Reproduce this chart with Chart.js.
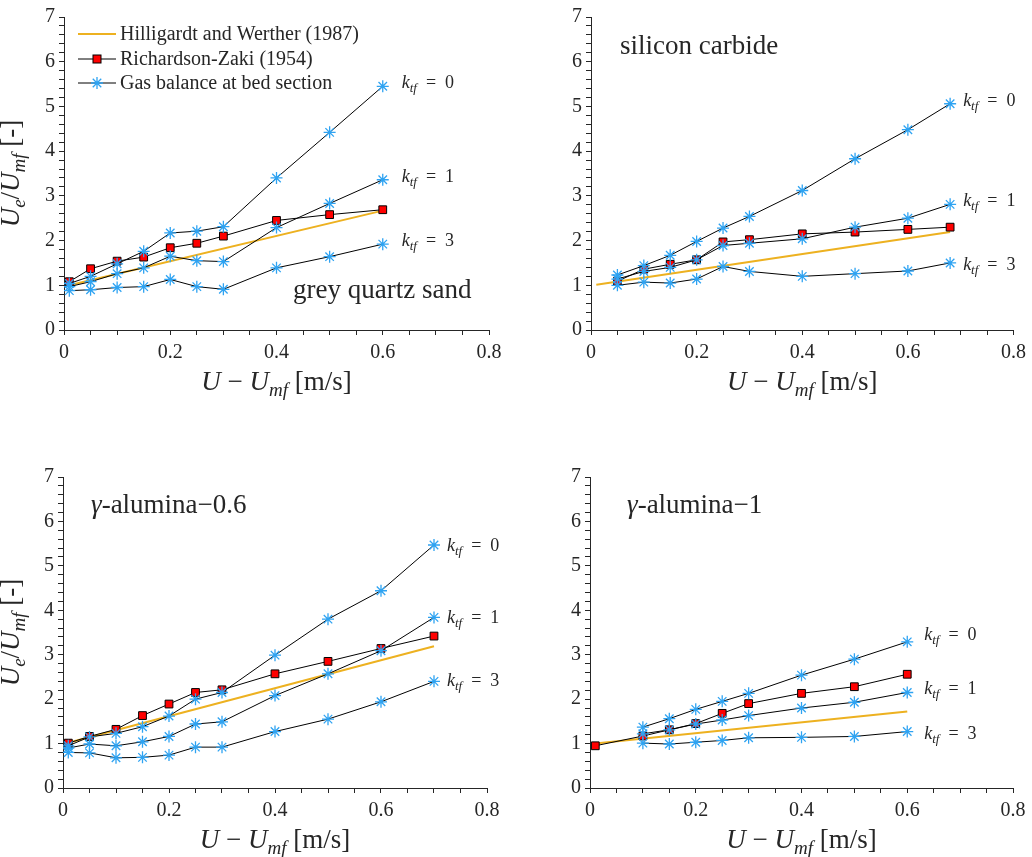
<!DOCTYPE html>
<html>
<head>
<meta charset="utf-8">
<script src="https://cdn.jsdelivr.net/npm/chart.js@4.4.1/dist/chart.umd.min.js"></script>
<style>
  html, body { margin: 0; padding: 0; background: #fff; }
  #wrap { position: relative; width: 1032px; height: 857px; }
  canvas { position: absolute; }
</style>
</head>
<body>
<div id="wrap">
  <canvas id="c1" width="516" height="430" style="left:0;top:0"></canvas>
  <canvas id="c2" width="516" height="430" style="left:516px;top:0"></canvas>
  <canvas id="c3" width="516" height="417" style="left:0;top:440px"></canvas>
  <canvas id="c4" width="516" height="417" style="left:516px;top:440px"></canvas>
</div>
<script>
// ---- data ----
// grey quartz sand
const quartzX   = [0.01, 0.05, 0.1, 0.15, 0.2, 0.25, 0.3, 0.4, 0.5, 0.6];
const quartzRZ  = [1.08, 1.37, 1.54, 1.63, 1.84, 1.94, 2.10, 2.45, 2.58, 2.69];
const quartzK0  = [1.04, 1.20, 1.48, 1.76, 2.17, 2.21, 2.31, 3.40, 4.42, 5.45];
const quartzK1  = [0.97, 1.08, 1.26, 1.39, 1.65, 1.55, 1.53, 2.29, 2.83, 3.36];
const quartzK3  = [0.88, 0.90, 0.95, 0.97, 1.13, 0.97, 0.91, 1.39, 1.64, 1.92];
const quartzHWx = [0.01, 0.6];
const quartzHW  = [1.00, 2.67];

// silicon carbide
const sicX   = [0.05, 0.1, 0.15, 0.2, 0.25, 0.3, 0.4, 0.5, 0.6, 0.68];
const sicRZ  = [1.09, 1.36, 1.47, 1.57, 1.97, 2.02, 2.15, 2.19, 2.25, 2.30];
const sicK0  = [1.23, 1.44, 1.67, 1.98, 2.28, 2.54, 3.12, 3.83, 4.48, 5.06];
const sicK1  = [1.14, 1.31, 1.40, 1.57, 1.89, 1.94, 2.04, 2.30, 2.50, 2.81];
const sicK3  = [1.00, 1.07, 1.05, 1.14, 1.42, 1.31, 1.20, 1.26, 1.32, 1.50];
const sicHWx = [0.01, 0.68];
const sicHW  = [1.01, 2.19];

// gamma-alumina-0.6
const al06X   = [0.01, 0.05, 0.1, 0.15, 0.2, 0.25, 0.3, 0.4, 0.5, 0.6, 0.7];
const al06RZ  = [1.01, 1.16, 1.32, 1.63, 1.89, 2.15, 2.21, 2.57, 2.85, 3.14, 3.42];
const al06K0  = [0.95, 1.15, 1.23, 1.38, 1.62, 2.00, 2.15, 2.99, 3.80, 4.44, 5.47];
const al06K1  = [0.90, 0.99, 0.95, 1.04, 1.16, 1.44, 1.49, 2.08, 2.57, 3.09, 3.84];
const al06K3  = [0.80, 0.79, 0.68, 0.69, 0.74, 0.92, 0.92, 1.27, 1.55, 1.94, 2.40];
const al06HWx = [0.01, 0.7];
const al06HW  = [1.02, 3.19];

// gamma-alumina-1
const al1RZx  = [0.01, 0.1, 0.15, 0.2, 0.25, 0.3, 0.4, 0.5, 0.6];
const al1RZ   = [0.95, 1.17, 1.31, 1.45, 1.68, 1.90, 2.13, 2.28, 2.56];
const al1X    = [0.1, 0.15, 0.2, 0.25, 0.3, 0.4, 0.5, 0.6];
const al1K0   = [1.37, 1.56, 1.77, 1.95, 2.13, 2.54, 2.90, 3.29];
const al1K1   = [1.22, 1.31, 1.44, 1.53, 1.63, 1.80, 1.93, 2.15];
const al1K3   = [1.01, 0.99, 1.03, 1.07, 1.13, 1.14, 1.16, 1.27];
const al1HWx  = [0.01, 0.6];
const al1HW   = [1.00, 1.72];

const kValues = ['0', '1', '3'];
const legendLabels = ['Hilligardt and Werther (1987)', 'Richardson-Zaki (1954)', 'Gas balance at bed section'];

// ---- style ----
const INK = '#262626';
const ORANGE = '#EDB120';
const STAR = '#2ea3f2';
const SERIF = '"Liberation Serif", "Times New Roman", serif';

Chart.defaults.font.family = SERIF;
Chart.defaults.font.size = 20;
Chart.defaults.color = INK;

const pts = (xs, ys) => xs.map((x, i) => ({ x, y: ys[i] }));

function fontFor(p, size) {
  const s = p.sub ? Math.round(size * 0.7) : size;
  return (p.it ? 'italic ' : '') + s + 'px ' + SERIF;
}

// draws mixed italic / subscript text, y is the baseline
function drawRich(ctx, parts, x, y, size, align) {
  ctx.textBaseline = 'alphabetic';
  ctx.textAlign = 'left';
  let w = 0;
  parts.forEach(p => { ctx.font = fontFor(p, size); w += ctx.measureText(p.t).width; });
  let cx = align === 'center' ? x - w / 2 : x;
  parts.forEach(p => {
    ctx.font = fontFor(p, size);
    ctx.fillText(p.t, cx, y + (p.sub ? size * 0.22 : 0));
    cx += ctx.measureText(p.t).width;
  });
}

function drawStar(ctx, x, y, r) {
  ctx.beginPath();
  for (let a = 0; a < 4; a++) {
    const t = a * Math.PI / 4;
    ctx.moveTo(x - r * Math.cos(t), y - r * Math.sin(t));
    ctx.lineTo(x + r * Math.cos(t), y + r * Math.sin(t));
  }
  ctx.stroke();
}

const yTitle = [{ t: 'U', it: true }, { t: 'e', it: true, sub: true }, { t: '/' },
                { t: 'U', it: true }, { t: 'mf', it: true, sub: true }, { t: ' [-]' }];
const xTitle = [{ t: 'U', it: true }, { t: ' \u2212 ' }, { t: 'U', it: true },
                { t: 'mf', it: true, sub: true }, { t: ' [m/s]' }];

const annotate = {
  id: 'annotate',
  afterDraw(chart, args, o) {
    const ctx = chart.ctx;
    const a = chart.chartArea;
    const xs = chart.scales.x, ys = chart.scales.y;
    ctx.save();
    ctx.fillStyle = INK;

    // axis titles
    drawRich(ctx, xTitle, (a.left + a.right) / 2, a.bottom + 60, 27, 'center');
    if (o.yTitle) {
      ctx.save();
      ctx.translate(19, (a.top + a.bottom) / 2);
      ctx.rotate(-Math.PI / 2);
      drawRich(ctx, yTitle, 0, 0, 27, 'center');
      ctx.restore();
    }

    // material name
    drawRich(ctx, o.name, o.nameX, o.nameY, 27, 'left');

    // k_tf labels at the end of each star series
    o.kSeries.forEach((s, i) => {
      const px = xs.getPixelForValue(s.x[s.x.length - 1]) + o.kdx;
      const py = ys.getPixelForValue(s.y[s.y.length - 1]) + o.kdy[i];
      drawRich(ctx, [{ t: 'k', it: true }, { t: 'tf', it: true, sub: true }, { t: '\u2002=\u2002' + kValues[i] }], px, py, 18, 'left');
    });

    // legend
    if (o.legend) {
      const rows = [34, 59, 83];
      const x0 = 78, x1 = 116, mx = 97;
      rows.forEach((ry, i) => {
        ctx.lineWidth = i === 0 ? 2 : 1;
        ctx.strokeStyle = i === 0 ? ORANGE : '#000';
        ctx.beginPath(); ctx.moveTo(x0, ry); ctx.lineTo(x1, ry); ctx.stroke();
        if (i === 1) {
          ctx.fillStyle = '#ff0000'; ctx.strokeStyle = '#000';
          ctx.fillRect(mx - 4, ry - 4, 8, 8); ctx.strokeRect(mx - 4, ry - 4, 8, 8);
        }
        if (i === 2) { ctx.strokeStyle = STAR; ctx.lineWidth = 1.3; drawStar(ctx, mx, ry, 6); }
        ctx.fillStyle = INK;
        ctx.font = '20px ' + SERIF;
        ctx.textBaseline = 'middle';
        ctx.textAlign = 'left';
        ctx.fillText(legendLabels[i], 120, ry + 1);
      });
    }
    ctx.restore();
  }
};

function panel(id, d, area, extra) {
  const canvas = document.getElementById(id);
  const W = canvas.width, H = canvas.height;
  const lineDs = (data, order) => ({
    data, order, showLine: true, borderColor: '#000', borderWidth: 1,
    pointStyle: 'star', pointRadius: 6, pointBorderColor: STAR, pointBorderWidth: 1.3,
    pointBackgroundColor: STAR
  });
  const datasets = [
    { data: pts(d.hwx, d.hw), order: 3, showLine: true, borderColor: ORANGE, borderWidth: 2, pointRadius: 0 },
    { data: pts(d.rzx, d.rz), order: 2, showLine: true, borderColor: '#000', borderWidth: 1,
      pointStyle: 'rect', pointRadius: 5.5, pointBackgroundColor: '#ff0000',
      pointBorderColor: '#000', pointBorderWidth: 1 },
    lineDs(pts(d.x, d.k0), 1),
    lineDs(pts(d.x, d.k1), 1),
    lineDs(pts(d.x, d.k3), 1)
  ];
  const axisGrid = { drawOnChartArea: false, drawTicks: true, tickLength: 5, color: INK, tickColor: INK };
  return new Chart(canvas, {
    type: 'scatter',
    data: { datasets },
    options: {
      responsive: false,
      animation: false,
      layout: { padding: { left: 0, top: area.top, right: W - area.right, bottom: 0 } },
      plugins: {
        legend: { display: false },
        tooltip: { enabled: false },
        annotate: Object.assign({
          kSeries: [{ x: d.x, y: d.k0 }, { x: d.x, y: d.k1 }, { x: d.x, y: d.k3 }]
        }, extra)
      },
      scales: {
        x: {
          type: 'linear', min: 0, max: 0.8,
          grid: axisGrid,
          border: { color: INK, width: 1 },
          ticks: {
            stepSize: 0.05, autoSkip: false, maxRotation: 0, padding: 6,
            font: { size: 20 }, color: INK,
            callback: v => {
              const r = v / 0.2;
              if (Math.abs(r - Math.round(r)) > 1e-6) return '';
              return Math.abs(v) < 1e-9 ? '0' : Number(v).toFixed(1);
            }
          },
          afterFit: s => { s.height = H - area.bottom; }
        },
        y: {
          min: 0, max: 7,
          grid: axisGrid,
          border: { color: INK, width: 1 },
          ticks: {
            stepSize: 0.2, autoSkip: false, padding: 4,
            font: { size: 20 }, color: INK,
            callback: v => Math.abs(v - Math.round(v)) < 1e-6 ? String(Math.round(v)) : ''
          },
          afterFit: s => { s.width = area.left; }
        }
      }
    },
    plugins: [annotate]
  });
}

panel('c1',
  { x: quartzX, k0: quartzK0, k1: quartzK1, k3: quartzK3, rzx: quartzX, rz: quartzRZ, hwx: quartzHWx, hw: quartzHW },
  { left: 64, top: 17, right: 489, bottom: 330 },
  { yTitle: true, legend: true, name: [{ t: 'grey quartz sand' }], nameX: 293, nameY: 298, kdx: 19, kdy: [2, 2, 2] });

panel('c2',
  { x: sicX, k0: sicK0, k1: sicK1, k3: sicK3, rzx: sicX, rz: sicRZ, hwx: sicHWx, hw: sicHW },
  { left: 75, top: 17, right: 498, bottom: 330 },
  { yTitle: false, legend: false, name: [{ t: 'silicon carbide' }], nameX: 104, nameY: 54, kdx: 13, kdy: [2, 2, 7] });

panel('c3',
  { x: al06X, k0: al06K0, k1: al06K1, k3: al06K3, rzx: al06X, rz: al06RZ, hwx: al06HWx, hw: al06HW },
  { left: 63, top: 37, right: 487, bottom: 348 },
  { yTitle: true, legend: false, name: [{ t: '\u03b3', it: true }, { t: '-alumina\u22120.6' }], nameX: 91, nameY: 73, kdx: 13, kdy: [6, 6, 5] });

panel('c4',
  { x: al1X, k0: al1K0, k1: al1K1, k3: al1K3, rzx: al1RZx, rz: al1RZ, hwx: al1HWx, hw: al1HW },
  { left: 74, top: 37, right: 497, bottom: 348 },
  { yTitle: false, legend: false, name: [{ t: '\u03b3', it: true }, { t: '-alumina\u22121' }], nameX: 111, nameY: 73, kdx: 17, kdy: [-2, 2, 7] });
</script>
</body>
</html>
